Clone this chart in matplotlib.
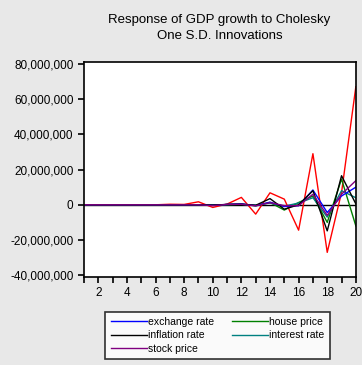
import matplotlib.pyplot as plt
from matplotlib.ticker import FuncFormatter, MultipleLocator

# Impulse responses of GDP growth (periods 1..20)
periods = list(range(1, 21))
gdp_growth = [0, 0, 0, 0, 0, 0, 0.3e6, 0.2e6, 1.7e6, -1.5e6,
              0.4e6, 4.2e6, -5.3e6, 6.8e6, 3.2e6, -14.4e6, 29e6, -27e6, 7e6, 67e6]
exchange_rate = [0, 0, 0, 0, 0, 0, 0, 0, 0, -0.3e6,
                 0.2e6, 0.5e6, -0.5e6, 1.5e6, -1e6, -0.5e6, 8.4e6, -4.4e6, 5e6, 10e6]
house_price = [0, 0, 0, 0, 0, 0, 0, 0, 0, -0.2e6,
               0.1e6, 0.4e6, -0.6e6, 1.3e6, -3e6, 1.3e6, 5e6, -10e6, 14.6e6, -12e6]
inflation_rate = [0, 0, 0, 0, 0, 0, 0, 0, 0, -0.2e6,
                  0.2e6, 0.3e6, -0.3e6, 3.5e6, -2.5e6, 0, 8e6, -14.8e6, 16.5e6, 0.5e6]
interest_rate = [0, 0, 0, 0, 0, 0, 0, 0, 0, -0.2e6,
                 0.1e6, 0.3e6, -0.2e6, 1e6, -0.8e6, 1e6, 4e6, -7e6, 8e6, 4e6]
stock_price = [0, 0, 0, 0, 0, 0, 0, 0, 0, -0.5e6,
               0.2e6, 0.3e6, -0.6e6, 1.2e6, -0.5e6, -0.5e6, 6e6, -6e6, 6e6, 13.7e6]

plt.rcParams["font.family"] = ["Liberation Sans", "DejaVu Sans"]

fig = plt.figure(figsize=(3.62, 3.65), dpi=100, facecolor="#e8e8e8")
ax = fig.add_axes([0.232, 0.241, 0.751, 0.589])

ax.axhline(0, color="black", lw=1.0)
ax.plot(periods, gdp_growth, color="red", lw=1.0)
ax.plot(periods, house_price, color="green", lw=1.0)
ax.plot(periods, interest_rate, color="teal", lw=1.0)
ax.plot(periods, exchange_rate, color="blue", lw=1.0)
ax.plot(periods, inflation_rate, color="black", lw=1.0)
ax.plot(periods, stock_price, color="purple", lw=1.0)

ax.set_xlim(1, 20)
ax.set_ylim(-41e6, 81e6)
ax.xaxis.set_major_locator(MultipleLocator(2))
ax.xaxis.set_minor_locator(MultipleLocator(1))
ax.yaxis.set_major_locator(MultipleLocator(20e6))
ax.yaxis.set_major_formatter(FuncFormatter(lambda v, p: f"{v:,.0f}"))
ax.tick_params(axis="both", which="both", direction="out", labelsize=8.5, width=1.2)
ax.tick_params(axis="both", which="major", length=4)
ax.tick_params(axis="x", which="minor", length=4)
for s in ax.spines.values():
    s.set_linewidth(1.2)

fig.text(0.606, 0.922, "Response of GDP growth to Cholesky\nOne S.D. Innovations",
         ha="center", va="center", fontsize=9.5, linespacing=1.45)

# legend order: first column then second column
handles = [
    plt.Line2D([], [], color="blue", lw=1.0),
    plt.Line2D([], [], color="black", lw=1.0),
    plt.Line2D([], [], color="purple", lw=1.0),
    plt.Line2D([], [], color="green", lw=1.0),
    plt.Line2D([], [], color="teal", lw=1.0),
]
labels = ["exchange rate", "inflation rate", "stock price", "house price", "interest rate"]
leg = fig.legend(handles, labels, ncol=2, loc="center", bbox_to_anchor=(0.601, 0.081),
                 fontsize=7.5, frameon=True, fancybox=False, edgecolor="black",
                 handlelength=3.5, handletextpad=0.1, columnspacing=1.7,
                 labelspacing=0.35, borderpad=0.5)
leg.get_frame().set_linewidth(1.2)

fig.savefig("out.png", dpi=100, facecolor=fig.get_facecolor())
